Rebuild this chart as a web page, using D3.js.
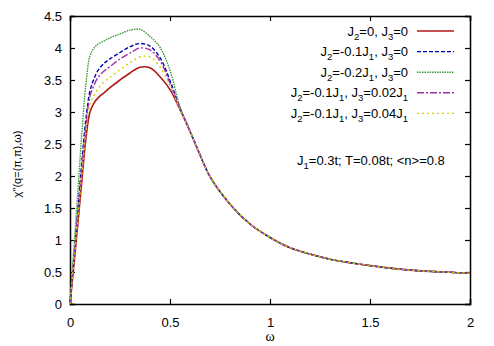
<!DOCTYPE html>
<html>
<head>
<meta charset="utf-8">
<script src="https://cdn.jsdelivr.net/npm/d3@7"></script>
<style>
  body { margin: 0; background: #fff; }
  text { font-family: "Liberation Sans", Arial, sans-serif; }
</style>
</head>
<body>
<div id="chart"></div>
<script>
// values
var omega = [0, 0.02, 0.04, 0.06, 0.08, 0.1, 0.12, 0.14, 0.17, 0.2, 0.25, 0.3, 0.35, 0.4, 0.45, 0.5, 0.55,
             0.6, 0.65, 0.7, 0.8, 0.9, 1.0, 1.1, 1.2, 1.3, 1.4, 1.5, 1.6, 1.7, 1.8, 1.9, 2.0];
var tail = [2.70, 2.33, 1.99, 1.56, 1.25, 1.04, 0.88, 0.78, 0.70, 0.645, 0.60, 0.56, 0.53, 0.51, 0.495, 0.48];

var chiRed     = [0, 0.62, 1.28, 1.95, 2.60, 3.00, 3.14, 3.22, 3.30, 3.38, 3.50, 3.61, 3.70, 3.69, 3.55, 3.35, 3.04].concat(tail);
var chiBlue    = [0, 0.75, 1.50, 2.25, 2.90, 3.33, 3.52, 3.65, 3.76, 3.83, 3.93, 4.02, 4.07, 4.03, 3.85, 3.49, 3.06].concat(tail);
var chiGreen   = [0, 0.90, 1.80, 2.70, 3.45, 3.88, 4.00, 4.06, 4.11, 4.16, 4.22, 4.28, 4.29, 4.18, 4.01, 3.65, 3.08].concat(tail);
var chiMagenta = [0, 0.72, 1.44, 2.15, 2.80, 3.25, 3.42, 3.54, 3.64, 3.71, 3.83, 3.92, 4.00, 3.97, 3.80, 3.45, 3.05].concat(tail);
var chiYellow  = [0, 0.68, 1.36, 2.05, 2.70, 3.12, 3.26, 3.36, 3.47, 3.54, 3.66, 3.77, 3.86, 3.86, 3.70, 3.41, 3.03].concat(tail);

var xTicks = [0, 0.5, 1, 1.5, 2];
var yTicks = [0, 0.5, 1, 1.5, 2, 2.5, 3, 3.5, 4, 4.5];

// legend labels: [J2 text, J3 text], subscripts handled below
var labels = [
  ["0", "0"],
  ["-0.1J1", "0"],
  ["-0.2J1", "0"],
  ["-0.1J1", "0.02J1"],
  ["-0.1J1", "0.04J1"]
];

var series = [chiRed, chiBlue, chiGreen, chiMagenta, chiYellow];
var colors = ["#b01818", "#0000a8", "#3a9a3a", "#a030a8", "#d0d000"];
var dashes = [null, "4,2", "1.5,1", "7,2,2,2", "2,3"];

var margin = {top: 16, right: 24, bottom: 42, left: 70},
    width = 494 - margin.left - margin.right,
    height = 346 - margin.top - margin.bottom;

var svg = d3.select("#chart")
  .append("svg")
    .attr("width", 494)
    .attr("height", 346)
  .append("g")
    .attr("transform", "translate(" + margin.left + "," + margin.top + ")");

var x = d3.scaleLinear().domain([0, 2]).range([0, width]);
var y = d3.scaleLinear().domain([0, 4.5]).range([height, 0]);

// axes, gnuplot style: inward ticks, mirrored
var tl = 5;
svg.append("g")
    .attr("transform", "translate(0," + height + ")")
    .call(d3.axisBottom(x).tickValues(xTicks).tickSize(-tl).tickPadding(tl + 9).tickFormat(d3.format("")))
svg.append("g")
    .call(d3.axisTop(x).tickValues(xTicks).tickSize(-tl).tickFormat(""))
svg.append("g")
    .call(d3.axisLeft(y).tickValues(yTicks).tickSize(-tl).tickPadding(tl + 3).tickFormat(d3.format("")))
svg.append("g")
    .attr("transform", "translate(" + width + ",0)")
    .call(d3.axisRight(y).tickValues(yTicks).tickSize(-tl).tickFormat(""))

svg.selectAll(".domain").attr("stroke", "#000").attr("stroke-width", 1.5)
svg.selectAll(".tick line").attr("stroke", "#000").attr("stroke-width", 1.2)
svg.selectAll(".tick text")
    .style("font-size", "13px")
    .style("font-family", "'Liberation Sans', Arial, sans-serif")
    .attr("fill", "#000")

// curves
var line = d3.line()
    .x(function(d, i) { return x(omega[i]); })
    .y(function(d) { return y(d); })
    .curve(d3.curveCatmullRom.alpha(0.5));

svg.append("g")
  .selectAll("path.curve")
  .data(series)
  .enter()
  .append("path")
    .attr("class", "curve")
    .attr("fill", "none")
    .attr("stroke", function(d, i) { return colors[i]; })
    .attr("stroke-width", function(d, i) { return i == 0 ? 1.6 : 1.4; })
    .attr("stroke-dasharray", function(d, i) { return dashes[i]; })
    .attr("d", line)

// adds text with "J1"-style subscripts
function subText(sel, str) {
  var parts = str.split(/(J\d)/);
  var shift = 0;
  parts.forEach(function(p) {
    if (/^J\d$/.test(p)) {
      sel.append("tspan").attr("dy", shift).text("J");
      sel.append("tspan").attr("dy", 4).style("font-size", "9.5px").text(p[1]);
      shift = -4;
    } else if (p.length) {
      sel.append("tspan").attr("dy", shift).text(p);
      shift = 0;
    }
  });
}

// legend
var lx = 408 - margin.left, ly = 31 - margin.top, step = 20.6;
labels.forEach(function(l, i) {
  var t = svg.append("text")
      .attr("x", lx)
      .attr("y", ly + i * step + 4.5)
      .attr("text-anchor", "end")
      .style("font-size", "13px");
  subText(t, "J2=" + l[0] + ", J3=" + l[1]);
  svg.append("line")
      .attr("x1", 417 - margin.left)
      .attr("x2", 454 - margin.left)
      .attr("y1", ly + i * step)
      .attr("y2", ly + i * step)
      .attr("stroke", colors[i])
      .attr("stroke-width", i == 0 ? 1.6 : 1.4)
      .attr("stroke-dasharray", dashes[i]);
});

var note = svg.append("text")
    .attr("x", 297 - margin.left)
    .attr("y", 165 - margin.top)
    .style("font-size", "13px");
subText(note, "J1=0.3t; T=0.08t; <n>=0.8");

// axis labels
svg.append("text")
    .attr("x", width / 2)
    .attr("y", 341 - margin.top)
    .attr("text-anchor", "middle")
    .style("font-family", "'Liberation Serif', serif")
    .style("font-size", "14px")
    .text("ω")

svg.append("text")
    .attr("transform", "translate(" + (21 - margin.left) + "," + (164 - margin.top) + ") rotate(-90)")
    .attr("text-anchor", "middle")
    .style("font-size", "11px")
    .text("χ''(q=(π,π),ω)")
</script>
</body>
</html>
